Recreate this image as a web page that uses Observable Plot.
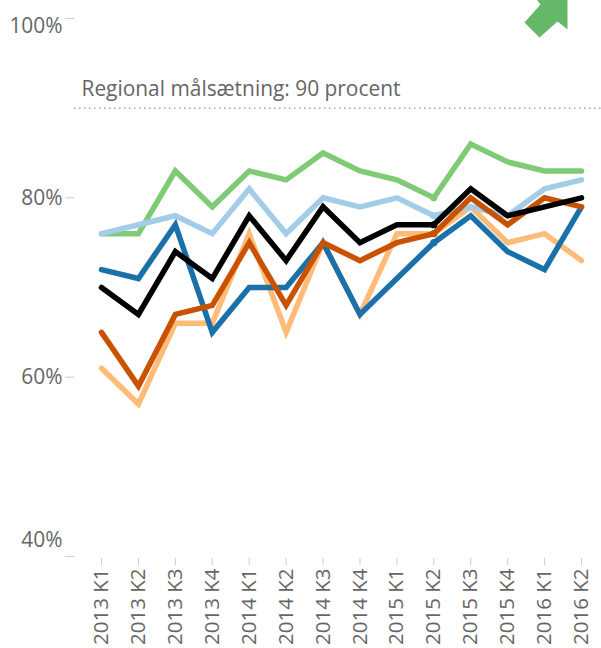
<!DOCTYPE html>
<html><head><meta charset="utf-8">
<style>html,body{margin:0;padding:0;background:#fff}svg{display:block}</style>
<script src="https://cdn.jsdelivr.net/npm/d3@7"></script>
<script src="https://cdn.jsdelivr.net/npm/@observablehq/plot@0.6"></script>
</head><body><div id="chart"></div>
<script>
const quarters = ["2013 K1","2013 K2","2013 K3","2013 K4","2014 K1","2014 K2","2014 K3","2014 K4","2015 K1","2015 K2","2015 K3","2015 K4","2016 K1","2016 K2"];
const lightOrange = [61,57,66,66,76,65,75,67,76,76,79,75,76,73];
const green = [76,76,83,79,83,82,85,83,82,80,86,84,83,83];
const lightBlue = [76,77,78,76,81,76,80,79,80,78,79,78,81,82];
const darkBlue = [72,71,77,65,70,70,75,67,71,75,78,74,72,79];
const darkOrange = [65,59,67,68,75,68,75,73,75,76,80,77,80,79];
const black = [70,67,74,71,78,73,79,75,77,77,81,78,79,80];
const target = 90;
const targetLabel = "Regional målsætning: 90 procent";
const seriesList = [
  {values: lightOrange, color: "#ffbc79"},
  {values: green, color: "#7fcb75"},
  {values: lightBlue, color: "#a3cce9"},
  {values: darkBlue, color: "#1a70a8"},
  {values: darkOrange, color: "#c85200"},
  {values: black, color: "#000000"}
];
const highlighted = "2015 K2";
const font = "'Open Sans', sans-serif";
const grey = "#666";
const arrow = {draw(c){
  c.moveTo(-21.5,3);c.lineTo(-6.5,18);c.lineTo(11.5,2);c.lineTo(21.5,10);
  c.lineTo(21.5,-25);c.lineTo(-13.5,-25);c.lineTo(-5.5,-15);c.closePath();
}};
const marks = [
  Plot.ruleY([target], {stroke: "#aaa", strokeWidth: 1.5, strokeDasharray: "1.5 3.5"}),
  Plot.axisX({tickRotate: -90, tickSize: 7, tickPadding: 3, stroke: "#ccc", color: grey, fontSize: 20.5, label: null, anchor: "bottom", dy: 2}),
  Plot.axisY({ticks: [40, 60, 80, 100], tickFormat: d => (d === 60 || d === 80) ? d + "%" : "", tickSize: 9, tickPadding: 3, stroke: "#ccc", fontSize: 20.9, color: grey, label: null}),
  Plot.text(["100%"], {x: () => quarters[0], y: () => 100, dx: -39, dy: 8, textAnchor: "end", fontSize: 20.9, fill: grey}),
  Plot.text(["40%"], {x: () => quarters[0], y: () => 40, dx: -39, dy: -16, textAnchor: "end", fontSize: 20.9, fill: grey}),
  Plot.text([targetLabel], {x: () => quarters[0], y: () => target, dx: -20, dy: -19, textAnchor: "start", fontSize: 20.9, fill: grey}),
  ...seriesList.flatMap(s => [
    Plot.line(quarters, {x: d => d, y: (d, i) => s.values[i], stroke: s.color, strokeWidth: 5.5, strokeLinejoin: "miter", strokeMiterlimit: 4}),
    Plot.dot([highlighted], {x: d => d, y: d => s.values[quarters.indexOf(d)], r: 3.6, fill: s.color, stroke: "none"})
  ]),
  Plot.dot({length: 1}, {frameAnchor: "top-left", dx: 471.5, dy: 1, symbol: arrow, r: 10, fill: "#66b768", stroke: "none"})
];
const chart = Plot.plot({
  width: 601, height: 648,
  marginTop: 18, marginBottom: 92, marginLeft: 74, marginRight: 0,
  style: {fontFamily: font, background: "#fff"},
  x: {type: "point", domain: quarters, range: [101, 581], padding: 0, round: false, label: null},
  y: {domain: [40, 100], label: null},
  marks
});
document.getElementById("chart").append(chart);
</script></body></html>
